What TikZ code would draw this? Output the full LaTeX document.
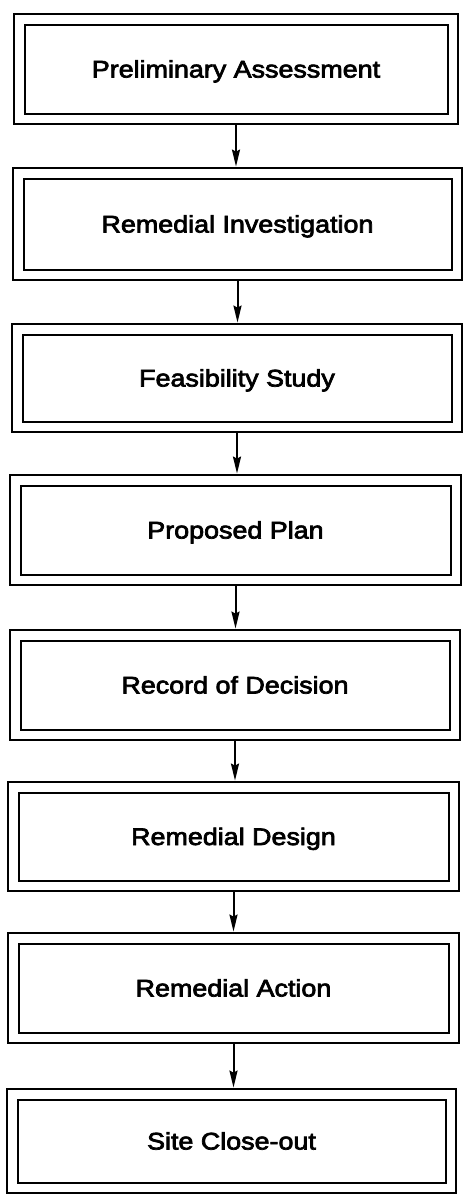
\documentclass[tikz,border=0pt]{standalone}
\usepackage{fontspec}
\setmainfont{Liberation Sans}[FakeStretch=1.12,FakeBold=3]
\usetikzlibrary{arrows.meta}
\tikzset{
  stagebox/.style={draw=black, line width=2.8pt, outer sep=0pt, inner sep=0pt,
    text height=17pt, text depth=0pt, font=\fontsize{24}{28}\selectfont},
  innerframe/.style={draw=black, line width=1.5pt},
  flowarrow/.style={draw=black, line width=2pt,
    -{Stealth[length=17pt,width=8pt,inset=2pt]}, shorten >=1.4pt}
}
\begin{document}
\begin{tikzpicture}[x=1pt,y=-1pt]
\fill[white] (0,0) rectangle (464,1203);
\useasboundingbox (0,0) rectangle (464,1203);
\foreach \n/\xa/\xb/\ya/\yb/\t in {
  1/14/458/14/124/Preliminary Assessment,
  2/13/462/168/280/Remedial Investigation,
  3/12/462/324/432/Feasibility Study,
  4/10/461/475/585/Proposed Plan,
  5/10/460/630/740/Record of Decision,
  6/8/459/782/891/Remedial Design,
  7/8/459/933/1043/Remedial Action,
  8/7/456/1089/1193/Site Close-out}{
  \node[stagebox, minimum width={(\xb-\xa)*1pt}, minimum height={(\yb-\ya)*1pt}]
    (b\n) at ({(\xa+\xb)/2},{(\ya+\yb)/2}) {\t};
  \draw[innerframe] ([xshift=11pt,yshift=-11pt]b\n.north west) rectangle
    ([xshift=-10pt,yshift=10pt]b\n.south east);
}
\foreach \a/\b in {1/2,2/3,3/4,4/5,5/6,6/7,7/8}
  \draw[flowarrow] (b\a.south) -- (b\a.south |- b\b.north);
\end{tikzpicture}
\end{document}
